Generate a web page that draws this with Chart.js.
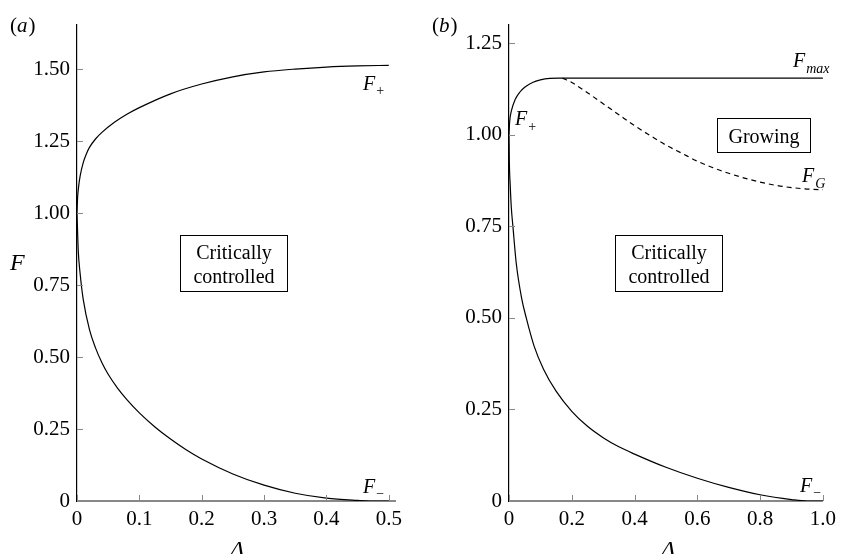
<!doctype html>
<html lang="en">
  <head>
    <title>F against Delta</title>
    <style>
      body { margin: 0; background: #fff; }
      #wrap { position: relative; width: 842px; height: 554px; overflow: hidden; }
      #panelA { position: absolute; left: 0; top: 0; }
      #panelB { position: absolute; left: 420px; top: 0; }
    </style>
  </head>
  <body>
    <div id="wrap">
      <canvas id="panelA" width="420" height="554"></canvas>
      <canvas id="panelB" width="422" height="554"></canvas>
    </div>
  </body>
  <script src="https://cdn.jsdelivr.net/npm/chart.js"></script>
<script>
  // panel (a)
  const deltaPlusA = [0, 0.001, 0.0025, 0.005, 0.01, 0.015, 0.02, 0.03, 0.04, 0.06, 0.08, 0.1, 0.15, 0.2, 0.25, 0.3, 0.35, 0.4, 0.45, 0.5];
  const fPlusA = [1.0, 1.055, 1.09, 1.128, 1.175, 1.205, 1.228, 1.258, 1.28, 1.315, 1.343, 1.366, 1.414, 1.448, 1.473, 1.490, 1.500, 1.507, 1.511, 1.513];
  const deltaMinusA = [0, 0.002, 0.005, 0.01, 0.02, 0.03, 0.04, 0.05, 0.065, 0.08, 0.1, 0.125, 0.15, 0.175, 0.2, 0.25, 0.3, 0.35, 0.4, 0.45, 0.47, 0.5];
  const fMinusA = [1.0, 0.87, 0.79, 0.70, 0.595, 0.53, 0.48, 0.44, 0.392, 0.352, 0.306, 0.257, 0.215, 0.178, 0.146, 0.094, 0.055, 0.027, 0.01, 0.002, 0, 0];
  const xTicksA = [0, 0.1, 0.2, 0.3, 0.4, 0.5];
  const xLabelsA = ["0", "0.1", "0.2", "0.3", "0.4", "0.5"];
  const yTicksA = [0, 0.25, 0.5, 0.75, 1.0, 1.25, 1.5];
  const yLabelsA = ["0", "0.25", "0.50", "0.75", "1.00", "1.25", "1.50"];

  // panel (b)
  const deltaPlusB = [0, 0.002, 0.008, 0.02, 0.035, 0.05, 0.075, 0.1, 0.13, 0.17];
  const fPlusB = [1.0, 1.035, 1.067, 1.097, 1.117, 1.13, 1.143, 1.15, 1.154, 1.155];
  const deltaMaxB = [0.17, 1.0];
  const fMaxB = [1.155, 1.155];
  const deltaGB = [0.17, 0.2, 0.25, 0.3, 0.35, 0.4, 0.45, 0.5, 0.55, 0.6, 0.65, 0.7, 0.75, 0.8, 0.85, 0.9, 0.95, 1.0];
  const fGB = [1.155, 1.143, 1.115, 1.085, 1.055, 1.025, 0.998, 0.972, 0.95, 0.928, 0.91, 0.895, 0.882, 0.871, 0.862, 0.856, 0.852, 0.85];
  const deltaMinusB = [0, 0.001, 0.004, 0.0075, 0.0125, 0.023, 0.04, 0.055, 0.08, 0.11, 0.15, 0.2, 0.25, 0.3, 0.35, 0.4, 0.5, 0.6, 0.7, 0.8, 0.9, 0.95, 1.0];
  const fMinusB = [1.0, 0.93, 0.86, 0.80, 0.75, 0.65, 0.555, 0.50, 0.423, 0.36, 0.30, 0.245, 0.204, 0.173, 0.148, 0.128, 0.092, 0.062, 0.037, 0.017, 0.004, 0, 0];
  const xTicksB = [0, 0.2, 0.4, 0.6, 0.8, 1.0];
  const xLabelsB = ["0", "0.2", "0.4", "0.6", "0.8", "1.0"];
  const yTicksB = [0, 0.25, 0.5, 0.75, 1.0, 1.25];
  const yLabelsB = ["0", "0.25", "0.50", "0.75", "1.00", "1.25"];

  const serif = '"Liberation Serif", "Times New Roman", serif';

  function pts(xs, ys) {
    return xs.map((x, i) => ({x: x, y: ys[i]}));
  }

  function curve(xs, ys, dashed) {
    return {
      data: pts(xs, ys),
      showLine: true,
      borderColor: '#000',
      borderWidth: 1.2,
      borderDash: dashed ? [5, 4] : [],
      pointRadius: 0,
      cubicInterpolationMode: 'monotone',
      fill: false
    };
  }

  // writes a text and returns its right end
  function txt(ctx, s, x, y, size, italic, align) {
    ctx.font = (italic ? 'italic ' : '') + size + 'px ' + serif;
    ctx.textAlign = align || 'left';
    ctx.textBaseline = 'alphabetic';
    ctx.fillStyle = '#000';
    ctx.fillText(s, x, y);
    return x + ctx.measureText(s).width;
  }

  function sym(ctx, x, y, sub, subItalic, subDy) {
    let e = txt(ctx, 'F', x, y, 20, true);
    txt(ctx, sub, e + 1, y + subDy, 14, subItalic);
  }

  function box(ctx, x, y, w, h, lines, base) {
    ctx.strokeStyle = '#000';
    ctx.lineWidth = 1;
    ctx.strokeRect(x + 0.5, y + 0.5, w, h);
    lines.forEach((l, i) => txt(ctx, l, x + w / 2 + 0.5, base + i * 24, 20, false, 'center'));
  }

  // short ticks pointing into the plot
  const innerTicks = {
    id: 'innerTicks',
    afterDraw(chart) {
      const ctx = chart.ctx;
      const area = chart.chartArea;
      ctx.save();
      ctx.strokeStyle = '#888';
      ctx.lineWidth = 1;
      chart.scales.x.ticks.forEach(t => {
        const px = Math.round(chart.scales.x.getPixelForValue(t.value)) + 0.5;
        ctx.beginPath(); ctx.moveTo(px, area.bottom); ctx.lineTo(px, area.bottom - 6); ctx.stroke();
      });
      chart.scales.y.ticks.forEach(t => {
        const py = Math.round(chart.scales.y.getPixelForValue(t.value)) + 0.5;
        ctx.beginPath(); ctx.moveTo(area.left, py); ctx.lineTo(area.left + 6, py); ctx.stroke();
      });
      ctx.restore();
    }
  };

  function makeOptions(xMax, yMax, xTicks, xLabels, yTicks, yLabels, yWidth, padRight) {
    return {
      responsive: false,
      animation: false,
      layout: { padding: { left: 0, top: 25, right: padRight, bottom: 0 } },
      plugins: { legend: { display: false }, tooltip: { enabled: false } },
      scales: {
        x: {
          type: 'linear', min: 0, max: xMax,
          grid: { display: false, drawTicks: false },
          border: { display: true, color: '#888', width: 2 },
          afterBuildTicks: s => { s.ticks = xTicks.map(v => ({value: v})); },
          afterFit: s => { s.height = 53; },
          ticks: {
            padding: 6, color: '#000', maxRotation: 0, autoSkip: false,
            font: { family: serif, size: 21 },
            callback: (v, i) => xLabels[i]
          }
        },
        y: {
          type: 'linear', min: 0, max: yMax,
          grid: { display: false, drawTicks: false },
          border: { display: true, color: '#000', width: 1.2 },
          afterBuildTicks: s => { s.ticks = yTicks.map(v => ({value: v})); },
          afterFit: s => { s.width = yWidth; },
          ticks: {
            padding: 7, color: '#000', autoSkip: false,
            font: { family: serif, size: 21 },
            callback: (v, i) => yLabels[i]
          }
        }
      }
    };
  }

  const labelsA = {
    id: 'labelsA',
    afterDraw(chart) {
      const ctx = chart.ctx;
      ctx.save();
      let e = txt(ctx, '(', 10, 32, 21, false);
      e = txt(ctx, 'a', e, 32, 21, true);
      txt(ctx, ')', e + 1, 32, 21, false);
      txt(ctx, 'F', 10, 270, 24, true);
      txt(ctx, 'Δ', 237, 557, 24, true, 'center');
      sym(ctx, 363, 90, '+', false, 5);
      sym(ctx, 363, 493, '−', false, 5);
      box(ctx, 180, 235, 107, 56, ['Critically', 'controlled'], 259);
      ctx.restore();
    }
  };

  const labelsB = {
    id: 'labelsB',
    afterDraw(chart) {
      const ctx = chart.ctx;
      ctx.save();
      let e = txt(ctx, '(', 12, 32, 21, false);
      e = txt(ctx, 'b', e, 32, 21, true);
      txt(ctx, ')', e + 1, 32, 21, false);
      txt(ctx, 'Δ', 248, 557, 24, true, 'center');
      sym(ctx, 373, 67, 'max', true, 6);
      sym(ctx, 95, 125, '+', false, 6);
      sym(ctx, 382, 182, 'G', true, 6);
      sym(ctx, 380, 492, '−', false, 5);
      box(ctx, 195, 235, 107, 56, ['Critically', 'controlled'], 259);
      box(ctx, 297, 118, 93, 34, ['Growing'], 143);
      ctx.restore();
    }
  };

  new Chart(document.getElementById('panelA'), {
    type: 'scatter',
    data: { datasets: [curve(deltaPlusA, fPlusA), curve(deltaMinusA, fMinusA)] },
    options: makeOptions(0.51, 1.653, xTicksA, xLabelsA, yTicksA, yLabelsA, 77, 25),
    plugins: [innerTicks, labelsA]
  });

  new Chart(document.getElementById('panelB'), {
    type: 'scatter',
    data: { datasets: [curve(deltaPlusB, fPlusB), curve(deltaMaxB, fMaxB), curve(deltaGB, fGB, true), curve(deltaMinusB, fMinusB)] },
    options: makeOptions(1.0, 1.3, xTicksB, xLabelsB, yTicksB, yLabelsB, 89, 15),
    plugins: [innerTicks, labelsB]
  });
</script>
</html>
